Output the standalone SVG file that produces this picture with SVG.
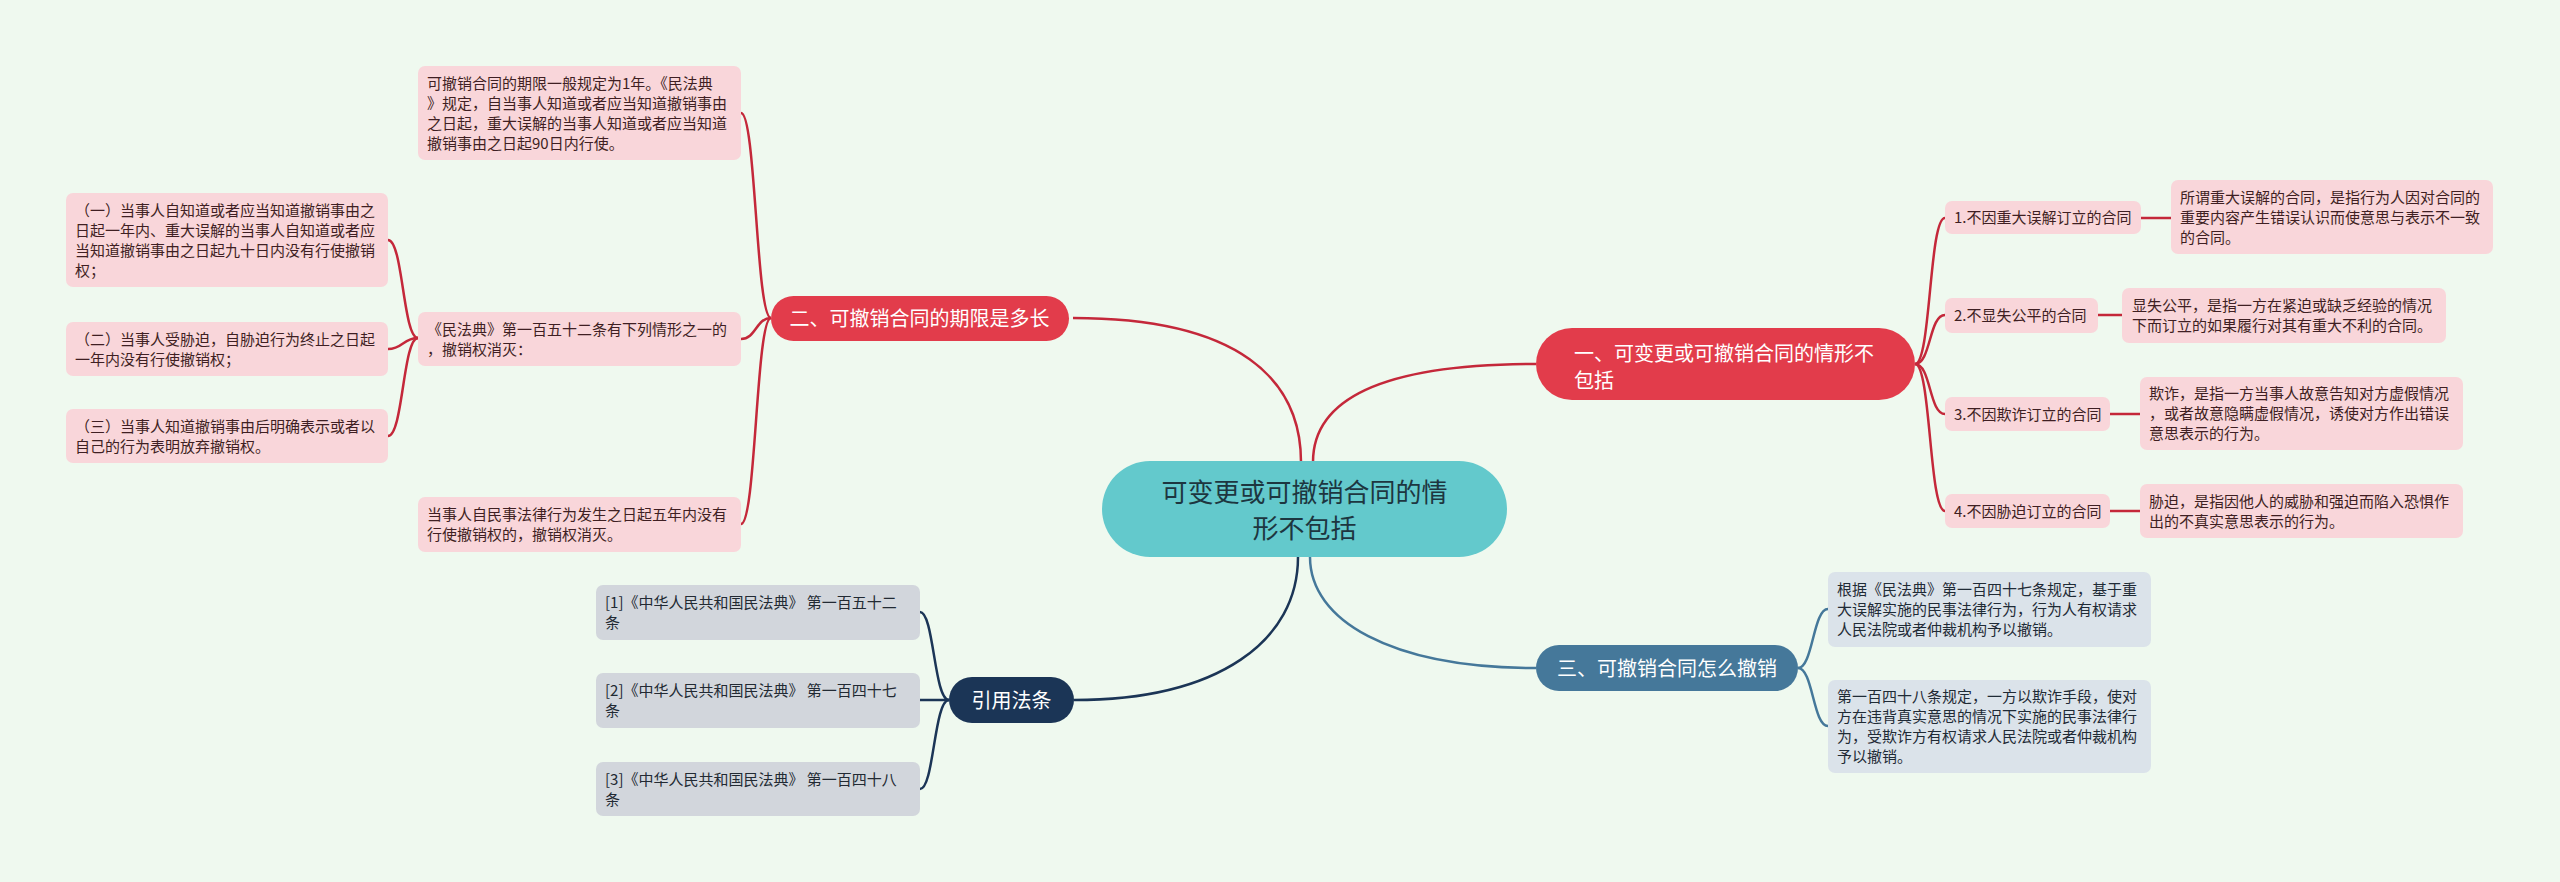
<svg xmlns="http://www.w3.org/2000/svg" width="2560" height="882" viewBox="0 0 2560 882">
<style>
text{font-family:"Noto Sans CJK SC","Noto Sans",sans-serif}
.pk{fill:#f9d6da}
.bl{fill:#dbe3ea}
.gy{fill:#d2d6dc}
.tp{font-size:15px;fill:#3f1f23}
.tb{font-size:15px;fill:#1f2b36}
.tg{font-size:15px;fill:#222a33}
.tw{font-size:20px;fill:#ffffff}
.cr{fill:none;stroke:#c4283a;stroke-width:2.5}
.cs{fill:none;stroke:#45789a;stroke-width:2.5}
.cn{fill:none;stroke:#1b3556;stroke-width:2.5}
</style>
<rect x="0" y="0" width="2560" height="882" fill="#eff9ef"/>
<g id="connectors">
<path class="cr" d="M1301 480 L1301 462 C1301 380 1240 318 1073 318"/>
<path class="cr" d="M1313 480 L1313 462 C1313 400 1380 364 1536 364"/>
<path class="cs" d="M1310 540 L1310 557 C1310 620 1390 668 1536 668"/>
<path class="cn" d="M1298 540 L1298 557 C1298 640 1220 700 1074 700"/>
<path class="cr" d="M771 318 C756 318 756 113 741 113"/>
<path class="cr" d="M771 318 C756 318 756 339 741 339"/>
<path class="cr" d="M771 318 C756 318 756 524 741 524"/>
<path class="cr" d="M418 338 C403 338 403 240 388 240"/>
<path class="cr" d="M418 338 C403 338 403 349 388 349"/>
<path class="cr" d="M418 338 C403 338 403 436 388 436"/>
<path class="cr" d="M1915 364 C1931 364 1929 218 1945 218"/>
<path class="cr" d="M1915 364 C1931 364 1929 315 1945 315"/>
<path class="cr" d="M1915 364 C1931 364 1929 414 1945 414"/>
<path class="cr" d="M1915 364 C1931 364 1929 511 1945 511"/>
<path class="cr" d="M2141 218 L2171 218"/>
<path class="cr" d="M2098 315 L2122 315"/>
<path class="cr" d="M2110 414 L2140 414"/>
<path class="cr" d="M2110 511 L2140 511"/>
<path class="cs" d="M1798 668 C1813 668 1813 609 1828 609"/>
<path class="cs" d="M1798 668 C1813 668 1813 726 1828 726"/>
<path class="cn" d="M949 700 C934 700 934 612 920 612"/>
<path class="cn" d="M949 700 C934 700 934 700 920 700"/>
<path class="cn" d="M949 700 C934 700 934 789 920 789"/>
</g>
<g id="center">
<rect x="1102" y="461" width="405" height="96" rx="48" fill="#63c9cc"/>
<text x="1304.5" y="501.9" font-size="26" fill="#1d3640" text-anchor="middle">可变更或可撤销合同的情</text>
<text x="1304.5" y="537.9" font-size="26" fill="#1d3640" text-anchor="middle">形不包括</text>
</g>
<g id="branch2">
<rect x="771" y="296" width="298" height="45" rx="22.5" fill="#e23c4b"/>
<text class="tw" x="919.5" y="326" text-anchor="middle">二、可撤销合同的期限是多长</text>
</g>
<g id="b2a">
<rect class="pk" x="418" y="66" width="323" height="94" rx="7"/>
<text class="tp" x="427" y="88.7">可撤销合同的期限一般规定为1年。《民法典</text>
<text class="tp" x="427" y="108.7">》规定，自当事人知道或者应当知道撤销事由</text>
<text class="tp" x="427" y="128.7">之日起，重大误解的当事人知道或者应当知道</text>
<text class="tp" x="427" y="148.7">撤销事由之日起90日内行使。</text>
</g>
<g id="b2b">
<rect class="pk" x="418" y="312" width="323" height="54" rx="7"/>
<text class="tp" x="427" y="334.7">《民法典》第一百五十二条有下列情形之一的</text>
<text class="tp" x="427" y="354.7">，撤销权消灭：</text>
</g>
<g id="b2c">
<rect class="pk" x="418" y="497" width="323" height="55" rx="7"/>
<text class="tp" x="427" y="520.2">当事人自民事法律行为发生之日起五年内没有</text>
<text class="tp" x="427" y="540.2">行使撤销权的，撤销权消灭。</text>
</g>
<g id="b2b1">
<rect class="pk" x="66" y="193" width="322" height="94" rx="7"/>
<text class="tp" x="75" y="215.7">（一）当事人自知道或者应当知道撤销事由之</text>
<text class="tp" x="75" y="235.7">日起一年内、重大误解的当事人自知道或者应</text>
<text class="tp" x="75" y="255.7">当知道撤销事由之日起九十日内没有行使撤销</text>
<text class="tp" x="75" y="275.7">权；</text>
</g>
<g id="b2b2">
<rect class="pk" x="66" y="322" width="322" height="54" rx="7"/>
<text class="tp" x="75" y="344.7">（二）当事人受胁迫，自胁迫行为终止之日起</text>
<text class="tp" x="75" y="364.7">一年内没有行使撤销权；</text>
</g>
<g id="b2b3">
<rect class="pk" x="66" y="409" width="322" height="54" rx="7"/>
<text class="tp" x="75" y="431.7">（三）当事人知道撤销事由后明确表示或者以</text>
<text class="tp" x="75" y="451.7">自己的行为表明放弃撤销权。</text>
</g>
<g id="branch1">
<rect x="1536" y="328" width="379" height="72" rx="36" fill="#e23c4b"/>
<text class="tw" x="1574" y="360.6">一、可变更或可撤销合同的情形不</text>
<text class="tw" x="1574" y="387.6">包括</text>
</g>
<g id="r1">
<rect class="pk" x="1945" y="201" width="196" height="33" rx="7"/>
<text class="tp" x="1954" y="223.2">1.不因重大误解订立的合同</text>
</g>
<g id="r1d">
<rect class="pk" x="2171" y="180" width="322" height="74" rx="7"/>
<text class="tp" x="2180" y="202.7">所谓重大误解的合同，是指行为人因对合同的</text>
<text class="tp" x="2180" y="222.7">重要内容产生错误认识而使意思与表示不一致</text>
<text class="tp" x="2180" y="242.7">的合同。</text>
</g>
<g id="r2">
<rect class="pk" x="1945" y="298" width="153" height="35" rx="7"/>
<text class="tp" x="1954" y="321.2">2.不显失公平的合同</text>
</g>
<g id="r2d">
<rect class="pk" x="2122" y="288" width="324" height="55" rx="7"/>
<text class="tp" x="2132" y="311.2">显失公平，是指一方在紧迫或缺乏经验的情况</text>
<text class="tp" x="2132" y="331.2">下而订立的如果履行对其有重大不利的合同。</text>
</g>
<g id="r3">
<rect class="pk" x="1945" y="397" width="165" height="34" rx="7"/>
<text class="tp" x="1954" y="419.7">3.不因欺诈订立的合同</text>
</g>
<g id="r3d">
<rect class="pk" x="2140" y="377" width="323" height="73" rx="7"/>
<text class="tp" x="2149" y="399.2">欺诈，是指一方当事人故意告知对方虚假情况</text>
<text class="tp" x="2149" y="419.2">，或者故意隐瞒虚假情况，诱使对方作出错误</text>
<text class="tp" x="2149" y="439.2">意思表示的行为。</text>
</g>
<g id="r4">
<rect class="pk" x="1945" y="494" width="165" height="34" rx="7"/>
<text class="tp" x="1954" y="516.7">4.不因胁迫订立的合同</text>
</g>
<g id="r4d">
<rect class="pk" x="2140" y="484" width="323" height="54" rx="7"/>
<text class="tp" x="2149" y="506.7">胁迫，是指因他人的威胁和强迫而陷入恐惧作</text>
<text class="tp" x="2149" y="526.7">出的不真实意思表示的行为。</text>
</g>
<g id="branch3">
<rect x="1536" y="645" width="262" height="46" rx="23" fill="#45789a"/>
<text class="tw" x="1667" y="675.6" text-anchor="middle">三、可撤销合同怎么撤销</text>
</g>
<g id="b3a">
<rect class="bl" x="1828" y="572" width="323" height="75" rx="7"/>
<text class="tb" x="1837" y="595.2">根据《民法典》第一百四十七条规定，基于重</text>
<text class="tb" x="1837" y="615.2">大误解实施的民事法律行为，行为人有权请求</text>
<text class="tb" x="1837" y="635.2">人民法院或者仲裁机构予以撤销。</text>
</g>
<g id="b3b">
<rect class="bl" x="1828" y="680" width="323" height="93" rx="7"/>
<text class="tb" x="1837" y="702.2">第一百四十八条规定，一方以欺诈手段，使对</text>
<text class="tb" x="1837" y="722.2">方在违背真实意思的情况下实施的民事法律行</text>
<text class="tb" x="1837" y="742.2">为，受欺诈方有权请求人民法院或者仲裁机构</text>
<text class="tb" x="1837" y="762.2">予以撤销。</text>
</g>
<g id="branch4">
<rect x="949" y="677" width="125" height="46" rx="23" fill="#1b3556"/>
<text class="tw" x="1011.5" y="707.6" text-anchor="middle">引用法条</text>
</g>
<g id="g1">
<rect class="gy" x="596" y="585" width="324" height="55" rx="7"/>
<text class="tg" x="605" y="608.2">[1]《中华人民共和国民法典》 第一百五十二</text>
<text class="tg" x="605" y="628.2">条</text>
</g>
<g id="g2">
<rect class="gy" x="596" y="673" width="324" height="55" rx="7"/>
<text class="tg" x="605" y="696.2">[2]《中华人民共和国民法典》 第一百四十七</text>
<text class="tg" x="605" y="716.2">条</text>
</g>
<g id="g3">
<rect class="gy" x="596" y="762" width="324" height="54" rx="7"/>
<text class="tg" x="605" y="784.7">[3]《中华人民共和国民法典》 第一百四十八</text>
<text class="tg" x="605" y="804.7">条</text>
</g>
</svg>
